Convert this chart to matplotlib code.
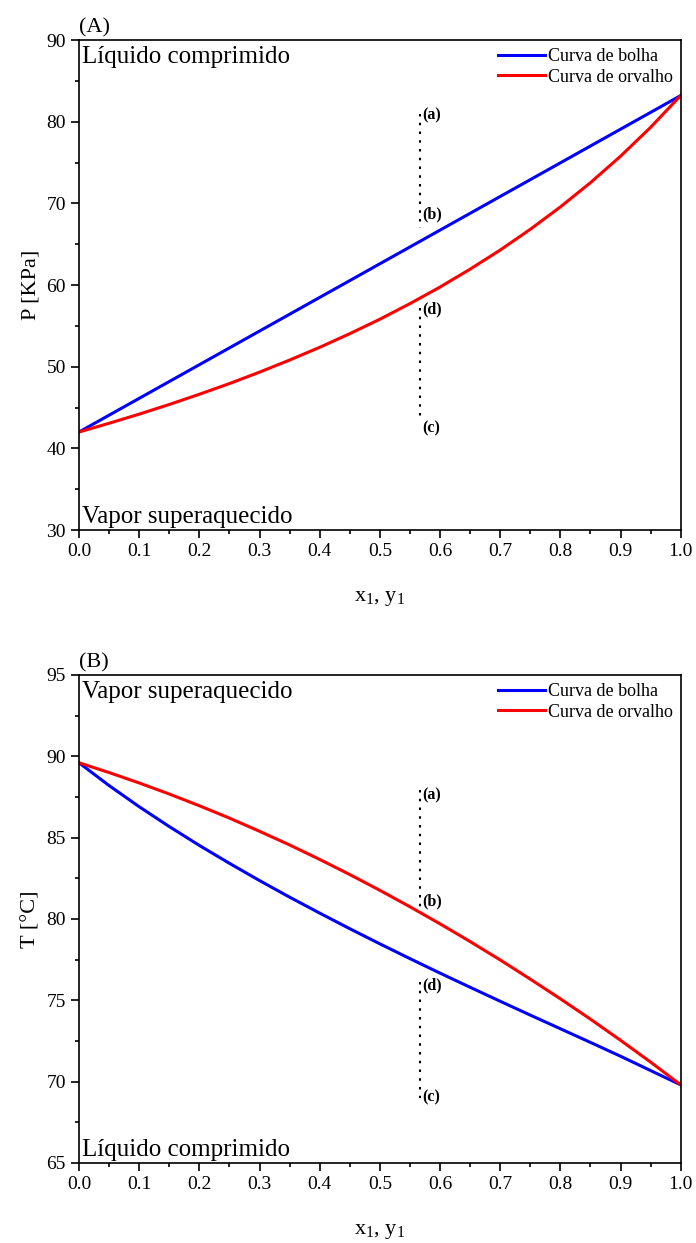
import matplotlib
matplotlib.use("Agg")
import matplotlib.pyplot as plt
from matplotlib.ticker import MultipleLocator

plt.rcParams["font.family"] = ["Liberation Serif", "DejaVu Serif"]
plt.rcParams["mathtext.fontset"] = "custom"
plt.rcParams["mathtext.rm"] = "Liberation Serif"
plt.rcParams["mathtext.it"] = "Liberation Serif"

# composition grid
x1 = [0.00, 0.05, 0.10, 0.15, 0.20, 0.25, 0.30, 0.35, 0.40, 0.45, 0.50,
      0.55, 0.60, 0.65, 0.70, 0.75, 0.80, 0.85, 0.90, 0.95, 1.00]

# (A) P-xy diagram, KPa
p_bolha = [42.00, 44.06, 46.12, 48.18, 50.24, 52.30, 54.36, 56.42, 58.48, 60.54, 62.60,
           64.66, 66.72, 68.78, 70.84, 72.90, 74.96, 77.02, 79.08, 81.14, 83.20]
p_orvalho = [42.00, 43.07, 44.19, 45.37, 46.62, 47.93, 49.33, 50.81, 52.37, 54.04, 55.81,
             57.72, 59.75, 61.94, 64.28, 66.82, 69.56, 72.53, 75.77, 79.31, 83.20]

# (B) T-xy diagram, degC
t_bolha = [89.60, 88.20, 86.90, 85.68, 84.52, 83.42, 82.36, 81.34, 80.36, 79.40, 78.47,
           77.56, 76.67, 75.80, 74.94, 74.09, 73.25, 72.41, 71.56, 70.68, 69.80]
t_orvalho = [89.60, 89.00, 88.36, 87.68, 86.96, 86.20, 85.39, 84.55, 83.66, 82.73, 81.76,
             80.75, 79.70, 78.61, 77.48, 76.30, 75.09, 73.84, 72.54, 71.20, 69.80]

# dotted path at constant composition and point labels
z_line = 0.567
p_segments = [(81.0, 67.0), (57.2, 43.5)]
p_points = {"(a)": 80.8, "(b)": 68.6, "(d)": 57.0, "(c)": 42.5}
t_segments = [(87.9, 80.6), (76.1, 69.0)]
t_points = {"(a)": 87.6, "(b)": 81.1, "(d)": 75.9, "(c)": 69.0}


def style_axes(ax, ymin, ymax, ystep):
    ax.set_xlim(0, 1)
    ax.set_ylim(ymin, ymax)
    ax.xaxis.set_major_locator(MultipleLocator(0.1))
    ax.xaxis.set_minor_locator(MultipleLocator(0.05))
    ax.yaxis.set_major_locator(MultipleLocator(ystep))
    ax.yaxis.set_minor_locator(MultipleLocator(ystep / 2))
    ax.tick_params(which="both", direction="out", top=False, right=False,
                   labelsize=14, width=1.2)
    ax.tick_params(which="major", length=6)
    ax.tick_params(which="minor", length=3)
    for s in ax.spines.values():
        s.set_linewidth(1.2)
    ax.set_xlabel(r"x$_1$, y$_1$", fontsize=16, labelpad=21)


def draw_path(ax, segments, points):
    for top, bottom in segments:
        ax.plot([z_line, z_line], [top, bottom], color="black", linestyle=(0, (1.2, 3.0)),
                linewidth=1.5)
    for lab, yv in points.items():
        ax.text(z_line + 0.004, yv, lab, fontsize=11.5, fontweight="bold",
                ha="left", va="center")


def add_legend(ax):
    ax.legend(loc="upper right", frameon=False, fontsize=13, handlelength=2.6,
              handletextpad=0.15, borderaxespad=0.05, labelspacing=0.2)


fig = plt.figure(figsize=(6.96, 12.43), dpi=100)

axA = fig.add_axes([0.1135, 0.5736, 0.8645, 0.3942])
axA.plot(x1, p_bolha, color="blue", linewidth=2.2, label="Curva de bolha")
axA.plot(x1, p_orvalho, color="red", linewidth=2.2, label="Curva de orvalho")
draw_path(axA, p_segments, p_points)
style_axes(axA, 30, 90, 10)
axA.set_ylabel("P [KPa]", fontsize=16)
axA.text(0.005, 0.988, "Líquido comprimido", transform=axA.transAxes,
         fontsize=18, ha="left", va="top")
axA.text(0.005, 0.005, "Vapor superaquecido", transform=axA.transAxes,
         fontsize=18, ha="left", va="bottom")
axA.text(0.0, 1.005, "(A)", transform=axA.transAxes, fontsize=16,
         ha="left", va="bottom")
add_legend(axA)

axB = fig.add_axes([0.1135, 0.0644, 0.8645, 0.3926])
axB.plot(x1, t_bolha, color="blue", linewidth=2.2, label="Curva de bolha")
axB.plot(x1, t_orvalho, color="red", linewidth=2.2, label="Curva de orvalho")
draw_path(axB, t_segments, t_points)
style_axes(axB, 65, 95, 5)
axB.set_ylabel("T [°C]", fontsize=16)
axB.text(0.005, 0.988, "Vapor superaquecido", transform=axB.transAxes,
         fontsize=18, ha="left", va="top")
axB.text(0.005, 0.005, "Líquido comprimido", transform=axB.transAxes,
         fontsize=18, ha="left", va="bottom")
axB.text(0.0, 1.005, "(B)", transform=axB.transAxes, fontsize=16,
         ha="left", va="bottom")
add_legend(axB)

fig.savefig("out.png", dpi=100)
